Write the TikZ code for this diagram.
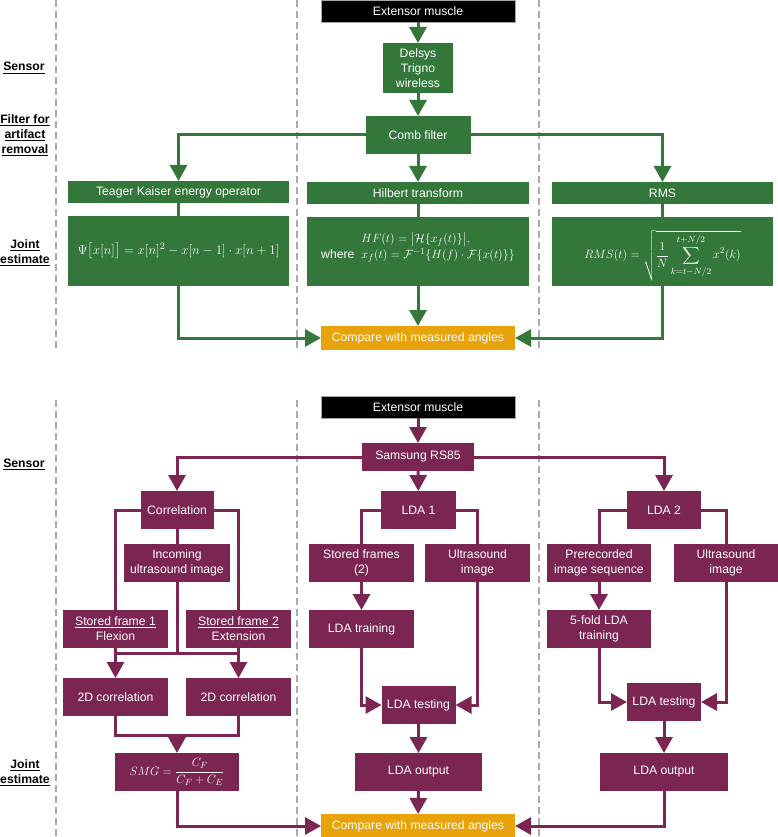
\documentclass[tikz,border=0pt]{standalone}
\usepackage{amsmath}
\usepackage{fontspec}
\setmainfont{Liberation Sans}
\usetikzlibrary{arrows.meta}
\definecolor{mygreen}{HTML}{33773B}
\definecolor{mypurple}{HTML}{7B2652}
\definecolor{myorange}{HTML}{E8A20C}
\definecolor{sepgray}{HTML}{AAAAAA}
\newcommand\fnt{\fontsize{12.2}{15}\selectfont}
\tikzset{
  base/.style={inner sep=0pt, outer sep=0pt, text=white, font=\fnt, align=center},
  gbox/.style={base, fill=mygreen},
  pbox/.style={base, fill=mypurple},
  kbox/.style={base, fill=black, draw=gray!70, line width=0.6pt},
  obox/.style={base, fill=myorange},
  gline/.style={draw=mygreen, line width=3pt},
  pline/.style={draw=mypurple, line width=3pt},
  arr/.style={-{Triangle[length=16pt,width=17pt]}},
  sepline/.style={draw=sepgray, line width=2.5pt, dash pattern=on 7pt off 4pt},
  lab/.style={font=\fnt\bfseries, align=center, text=black, inner sep=0pt},
}
\begin{document}
\begin{tikzpicture}[x=1pt,y=-1pt]
\useasboundingbox (0,0) rectangle (778,837);
% separators
\draw[sepline] (56,0) -- (56,352);
\draw[sepline] (297,0) -- (297,352);
\draw[sepline] (539,0) -- (539,352);
\draw[sepline] (56,400) -- (56,837);
\draw[sepline] (297,400) -- (297,837);
\draw[sepline] (539,400) -- (539,837);
% row labels
\node[lab] (l1) at (24,68) {\underline{Sensor}};
\node[lab] (l2) at (25,135) {\underline{Filter for}\\\underline{artifact}\\\underline{removal}};
\node[lab] (l3) at (25,252.5) {\underline{Joint}\\\underline{estimate}};
\node[lab] (l4) at (24,464) {\underline{Sensor}};
\node[lab] (l5) at (25,773) {\underline{Joint}\\\underline{estimate}};
% ---------- top ----------
\node[kbox, minimum width=194, minimum height=22] (ext1) at (418,11) {Extensor muscle};
\node[gbox, minimum width=70, minimum height=50] (delsys) at (418,68) {Delsys\\Trigno\\wireless};
\node[gbox, minimum width=105, minimum height=38] (comb) at (418,135) {Comb filter};
\node[gbox, minimum width=221, minimum height=22] (tkh) at (178.5,192) {Teager Kaiser energy operator};
\node[gbox, minimum width=221, minimum height=70] (tkf) at (178.5,251) {\scalebox{1.09}{$\Psi\big[x[n]\big] = x[n]^2 - x[n-1]\cdot x[n+1]$}};
\node[gbox, minimum width=222, minimum height=22] (hbh) at (418,193) {Hilbert transform};
\node[gbox, minimum width=222, minimum height=69] (hbf) at (418,251.5) {\raisebox{4pt}[\height][\depth]{\begin{tabular}{@{}r@{\hspace{7pt}}l@{}} & $HF(t) = \big|\mathcal{H}\{x_f(t)\}\big|,$\\[1pt] where & $x_f(t)=\mathcal{F}^{-1}\{H(f)\cdot\mathcal{F}\{x(t)\}\}$\end{tabular}}};
\node[gbox, minimum width=221, minimum height=22] (rmsh) at (662.5,193) {RMS};
\node[gbox, minimum width=221, minimum height=69] (rmsf) at (662.5,251.5) {\raisebox{-4pt}[\height][\depth]{$RMS(t)=\sqrt{\dfrac{1}{N}\displaystyle\sum_{k=t-N/2}^{t+N/2} x^2(k)}$}};
\node[obox, minimum width=194, minimum height=24] (cmp1) at (418,338) {Compare with measured angles};
\draw[gline,arr] (ext1) -- (delsys);
\draw[gline,arr] (delsys) -- (comb);
\draw[gline,arr] (comb) -- (hbh);
\draw[gline,arr] (comb.west) -| (tkh.north);
\draw[gline,arr] (comb.east) -| (rmsh.north);
\draw[gline] (tkh) -- (tkf);
\draw[gline] (hbh) -- (hbf);
\draw[gline] (rmsh) -- (rmsf);
\draw[gline,arr] (tkf.south) |- (cmp1.west);
\draw[gline,arr] (hbf) -- (cmp1);
\draw[gline,arr] (rmsf.south) |- (cmp1.east);
% ---------- bottom ----------
\node[kbox, minimum width=194, minimum height=22] (ext2) at (418,407) {Extensor muscle};
\node[pbox, minimum width=112, minimum height=28] (sam) at (418,457) {Samsung RS85};
\node[pbox, minimum width=73, minimum height=38] (corr) at (177,510) {Correlation};
\node[pbox, minimum width=106, minimum height=38] (inc) at (177,563) {Incoming\\ultrasound image};
\node[pbox, minimum width=105, minimum height=38] (sf1) at (115.5,629) {\underline{Stored frame 1}\\Flexion};
\node[pbox, minimum width=105, minimum height=38] (sf2) at (238.5,629) {\underline{Stored frame 2}\\Extension};
\node[pbox, minimum width=105, minimum height=38] (c2d1) at (115.5,697) {2D correlation};
\node[pbox, minimum width=105, minimum height=38] (c2d2) at (238.5,697) {2D correlation};
\node[pbox, minimum width=124, minimum height=38] (smg) at (177,772) {$SMG=\dfrac{C_F}{C_F+C_E}$};
\node[pbox, minimum width=75, minimum height=38] (lda1) at (418.5,510) {LDA 1};
\node[pbox, minimum width=105, minimum height=38] (sfs) at (361.5,563) {Stored frames\\(2)};
\node[pbox, minimum width=105, minimum height=38] (us1) at (477.5,563) {Ultrasound\\image};
\node[pbox, minimum width=105, minimum height=38] (ldatr) at (361.5,629) {LDA training};
\node[pbox, minimum width=74, minimum height=38] (ldate1) at (418.5,705) {LDA testing};
\node[pbox, minimum width=127, minimum height=38] (ldao1) at (418.5,772) {LDA output};
\node[pbox, minimum width=74, minimum height=38] (lda2) at (664,510) {LDA 2};
\node[pbox, minimum width=104, minimum height=38] (pre) at (599,563) {Prerecorded\\image sequence};
\node[pbox, minimum width=104, minimum height=38] (us2) at (726,563) {Ultrasound\\image};
\node[pbox, minimum width=104, minimum height=38] (fivef) at (599,629) {5-fold LDA\\training};
\node[pbox, minimum width=74, minimum height=38] (ldate2) at (664,702) {LDA testing};
\node[pbox, minimum width=128, minimum height=38] (ldao2) at (664,772) {LDA output};
\node[obox, minimum width=194, minimum height=24] (cmp2) at (418,826) {Compare with measured angles};
\coordinate (bar) at (177,653);
\coordinate (join) at (177,735);
\draw[pline,arr] (ext2) -- (sam);
\draw[pline,arr] (sam.west) -| (corr.north);
\draw[pline,arr] (sam) -- (lda1);
\draw[pline,arr] (sam.east) -| (lda2.north);
% correlation branch
\draw[pline] (corr.west) -| (sf1.north);
\draw[pline] (corr.east) -| (sf2.north);
\draw[pline] (corr) -- (inc);
\draw[pline] (inc.south) -- (bar);
\draw[pline] (sf1.south |- bar) -- (sf2.south |- bar);
\draw[pline,arr] (sf1) -- (c2d1);
\draw[pline,arr] (sf2) -- (c2d2);
\draw[pline] (c2d1.south) |- (join) -| (c2d2.south);
\draw[pline,arr] (join) -- (smg.north);
\draw[pline,arr] (smg.south) |- (cmp2.west);
% LDA 1 branch
\draw[pline] (lda1.west) -| (sfs.north);
\draw[pline] (lda1.east) -| (us1.north);
\draw[pline,arr] (sfs) -- (ldatr);
\draw[pline,arr] (ldatr.south) |- (ldate1.west);
\draw[pline,arr] (us1.south) |- (ldate1.east);
\draw[pline,arr] (ldate1) -- (ldao1);
\draw[pline,arr] (ldao1) -- (cmp2);
% LDA 2 branch
\draw[pline] (lda2.west) -| (pre.north);
\draw[pline] (lda2.east) -| (us2.north);
\draw[pline,arr] (pre) -- (fivef);
\draw[pline,arr] (fivef.south) |- (ldate2.west);
\draw[pline,arr] (us2.south) |- (ldate2.east);
\draw[pline,arr] (ldate2) -- (ldao2);
\draw[pline,arr] (ldao2.south) |- (cmp2.east);
\end{tikzpicture}
\end{document}
